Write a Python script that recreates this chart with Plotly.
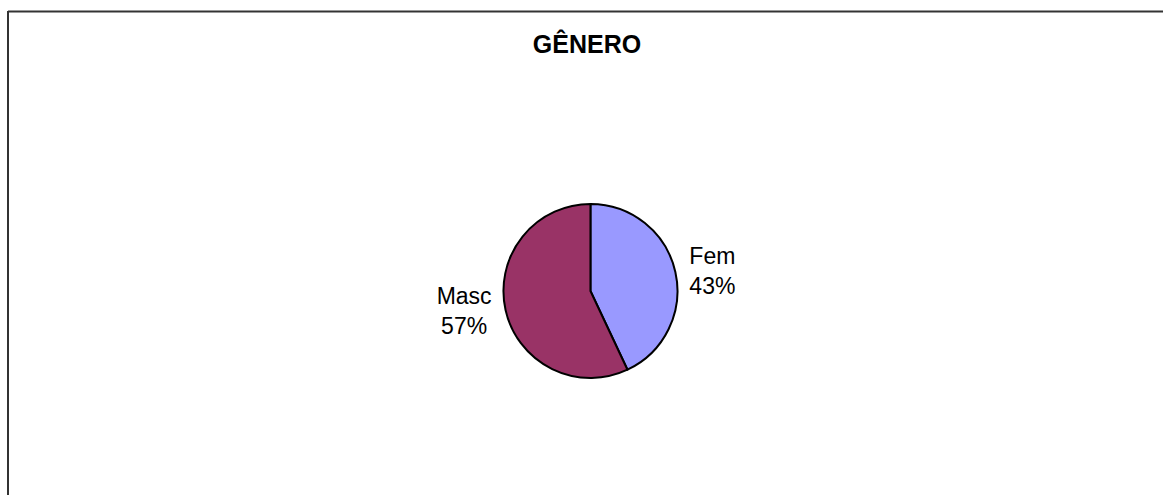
import plotly.graph_objects as go

# Gender split
labels = ["Fem", "Masc"]
values = [43, 57]
colors = ["#9999FF", "#993366"]
title_text = "GÊNERO"

W, H = 1163, 495

fig = go.Figure(
    go.Pie(
        labels=labels,
        values=values,
        sort=False,
        direction="clockwise",
        rotation=0,
        marker=dict(colors=colors, line=dict(color="#000000", width=2)),
        textinfo="label+percent",
        texttemplate="%{label}<br>%{percent:.0%}",
        textposition="outside",
        textfont=dict(family="Liberation Sans, Arial, sans-serif", size=23, color="#000000"),
        showlegend=False,
        hoverinfo="label+percent",
        domain=dict(x=[0.3077, 0.7077], y=[0.2364, 0.5879]),
    )
)

# chart-area frame (top and left edges)
frame = dict(color="#333333", width=2)
fig.add_shape(type="line", xref="paper", yref="paper",
              x0=8 / W, x1=1.0, y0=1 - 11.5 / H, y1=1 - 11.5 / H, line=frame)
fig.add_shape(type="line", xref="paper", yref="paper",
              x0=8 / W, x1=8 / W, y0=1 - 11 / H, y1=0, line=frame)

fig.update_layout(
    width=W,
    height=H,
    margin=dict(l=0, r=0, t=0, b=0),
    paper_bgcolor="#FFFFFF",
    plot_bgcolor="#FFFFFF",
    title=dict(
        text="<b>" + title_text + "</b>",
        x=587 / W,
        xanchor="center",
        xref="paper",
        yref="paper",
        y=1 - 44 / H,
        yanchor="middle",
        font=dict(family="Liberation Sans, Arial, sans-serif", size=25, color="#000000"),
    ),
)

fig.write_html("out.html")
